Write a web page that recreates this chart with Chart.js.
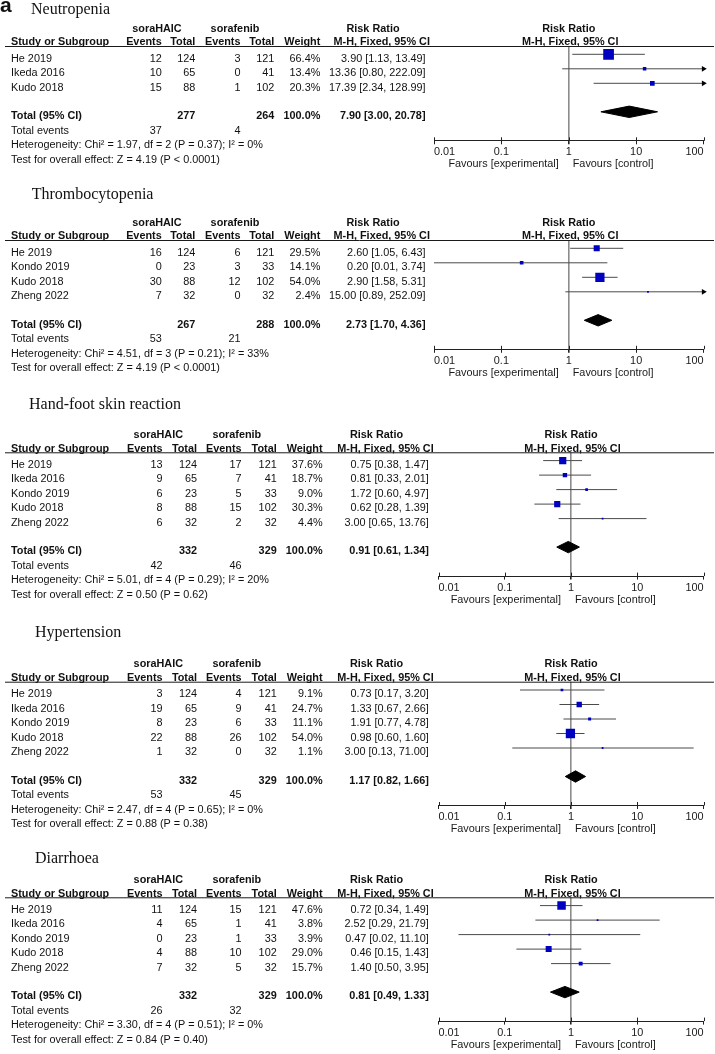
<!DOCTYPE html>
<html><head><meta charset="utf-8">
<script src="https://cdn.jsdelivr.net/npm/chart.js@4.4.1/dist/chart.umd.min.js"></script>
<style>
html,body{margin:0;padding:0;background:#fff;}
body{width:715px;height:1054px;position:relative;overflow:hidden;}
.panel{position:absolute;left:0;width:715px;}
</style></head><body>
<script>
// ---------------- DATA ----------------
const outcomeTitles = ["Neutropenia","Thrombocytopenia","Hand-foot skin reaction","Hypertension","Diarrhoea"];
const groupLabels = ["soraHAIC","sorafenib"];
const axisTicks = [0.01,0.1,1,10,100];
const favourLabels = ["Favours [experimental]","Favours [control]"];

// Neutropenia
const neutStudies = ["He 2019","Ikeda 2016","Kudo 2018"];
const neutExpEvents = [12,10,15];
const neutExpTotal = [124,65,88];
const neutCtlEvents = [3,0,1];
const neutCtlTotal = [121,41,102];
const neutWeight = [66.4,13.4,20.3];
const neutRR = [3.90,13.36,17.39];
const neutLow = [1.13,0.80,2.34];
const neutHigh = [13.49,222.09,128.99];
const neutPooled = [7.90,3.00,20.78];
const neutTotals = [37,277,4,264];
const neutStats = ["Heterogeneity: Chi\u00b2 = 1.97, df = 2 (P = 0.37); I\u00b2 = 0%","Test for overall effect: Z = 4.19 (P < 0.0001)"];

// Thrombocytopenia
const thrStudies = ["He 2019","Kondo 2019","Kudo 2018","Zheng 2022"];
const thrExpEvents = [16,0,30,7];
const thrExpTotal = [124,23,88,32];
const thrCtlEvents = [6,3,12,0];
const thrCtlTotal = [121,33,102,32];
const thrWeight = [29.5,14.1,54.0,2.4];
const thrRR = [2.60,0.20,2.90,15.00];
const thrLow = [1.05,0.01,1.58,0.89];
const thrHigh = [6.43,3.74,5.31,252.09];
const thrPooled = [2.73,1.70,4.36];
const thrTotals = [53,267,21,288];
const thrStats = ["Heterogeneity: Chi\u00b2 = 4.51, df = 3 (P = 0.21); I\u00b2 = 33%","Test for overall effect: Z = 4.19 (P < 0.0001)"];

// Hand-foot skin reaction
const hfsStudies = ["He 2019","Ikeda 2016","Kondo 2019","Kudo 2018","Zheng 2022"];
const hfsExpEvents = [13,9,6,8,6];
const hfsExpTotal = [124,65,23,88,32];
const hfsCtlEvents = [17,7,5,15,2];
const hfsCtlTotal = [121,41,33,102,32];
const hfsWeight = [37.6,18.7,9.0,30.3,4.4];
const hfsRR = [0.75,0.81,1.72,0.62,3.00];
const hfsLow = [0.38,0.33,0.60,0.28,0.65];
const hfsHigh = [1.47,2.01,4.97,1.39,13.76];
const hfsPooled = [0.91,0.61,1.34];
const hfsTotals = [42,332,46,329];
const hfsStats = ["Heterogeneity: Chi\u00b2 = 5.01, df = 4 (P = 0.29); I\u00b2 = 20%","Test for overall effect: Z = 0.50 (P = 0.62)"];

// Hypertension
const hypStudies = ["He 2019","Ikeda 2016","Kondo 2019","Kudo 2018","Zheng 2022"];
const hypExpEvents = [3,19,8,22,1];
const hypExpTotal = [124,65,23,88,32];
const hypCtlEvents = [4,9,6,26,0];
const hypCtlTotal = [121,41,33,102,32];
const hypWeight = [9.1,24.7,11.1,54.0,1.1];
const hypRR = [0.73,1.33,1.91,0.98,3.00];
const hypLow = [0.17,0.67,0.77,0.60,0.13];
const hypHigh = [3.20,2.66,4.78,1.60,71.00];
const hypPooled = [1.17,0.82,1.66];
const hypTotals = [53,332,45,329];
const hypStats = ["Heterogeneity: Chi\u00b2 = 2.47, df = 4 (P = 0.65); I\u00b2 = 0%","Test for overall effect: Z = 0.88 (P = 0.38)"];

// Diarrhoea
const diaStudies = ["He 2019","Ikeda 2016","Kondo 2019","Kudo 2018","Zheng 2022"];
const diaExpEvents = [11,4,0,4,7];
const diaExpTotal = [124,65,23,88,32];
const diaCtlEvents = [15,1,1,10,5];
const diaCtlTotal = [121,41,33,102,32];
const diaWeight = [47.6,3.8,3.9,29.0,15.7];
const diaRR = [0.72,2.52,0.47,0.46,1.40];
const diaLow = [0.34,0.29,0.02,0.15,0.50];
const diaHigh = [1.49,21.79,11.10,1.43,3.95];
const diaPooled = [0.81,0.49,1.33];
const diaTotals = [26,332,32,329];
const diaStats = ["Heterogeneity: Chi\u00b2 = 3.30, df = 4 (P = 0.51); I\u00b2 = 0%","Test for overall effect: Z = 0.84 (P = 0.40)"];

// ---------------- ASSEMBLY ----------------
function outcome(title, st, ee, et, ce, ct, w, rr, lo, hi, pooled, totals, stats){
  return {title, studies:st, expEv:ee, expTot:et, ctlEv:ce, ctlTot:ct, weight:w, rr, lo, hi, pooled, totals, stats};
}
const outcomes = [
  outcome(outcomeTitles[0], neutStudies, neutExpEvents, neutExpTotal, neutCtlEvents, neutCtlTotal, neutWeight, neutRR, neutLow, neutHigh, neutPooled, neutTotals, neutStats),
  outcome(outcomeTitles[1], thrStudies, thrExpEvents, thrExpTotal, thrCtlEvents, thrCtlTotal, thrWeight, thrRR, thrLow, thrHigh, thrPooled, thrTotals, thrStats),
  outcome(outcomeTitles[2], hfsStudies, hfsExpEvents, hfsExpTotal, hfsCtlEvents, hfsCtlTotal, hfsWeight, hfsRR, hfsLow, hfsHigh, hfsPooled, hfsTotals, hfsStats),
  outcome(outcomeTitles[3], hypStudies, hypExpEvents, hypExpTotal, hypCtlEvents, hypCtlTotal, hypWeight, hypRR, hypLow, hypHigh, hypPooled, hypTotals, hypStats),
  outcome(outcomeTitles[4], diaStudies, diaExpEvents, diaExpTotal, diaCtlEvents, diaCtlTotal, diaWeight, diaRR, diaLow, diaHigh, diaPooled, diaTotals, diaStats),
];

// ---------------- LAYOUT / STYLE ----------------
const colsA = {name:11, expEv:161.7, expTot:195.3, ctlEv:240.5, ctlTot:274.3, weight:320.3, rr:425.5, g1:157, g2:235, rrHead:373, mhHead:381.7, plotL:434, plotR:703.5};
const colsB = {name:11, expEv:162.6, expTot:197, ctlEv:241.6, ctlTot:276.7, weight:322.6, rr:428.8, g1:158.3, g2:236.8, rrHead:376.5, mhHead:385.5, plotL:438.5, plotR:703.5};
const panelLayout = [
  {top:0,   height:180, rule:46,    titleBase:13.6,  titleX:31,   cols:colsA},
  {top:180, height:210, rule:240,   titleBase:198.8, titleX:31.7, cols:colsA},
  {top:390, height:218, rule:452.3, titleBase:409,   titleX:29,   cols:colsB},
  {top:608, height:234, rule:681.7, titleBase:636.7, titleX:35,   cols:colsB},
  {top:842, height:212, rule:897.3, titleBase:863,   titleX:35,   cols:colsB},
];
const ROW0 = 8.3, ROWH = 14.5, TOTGAP = 28.5, AXGAP = 29, AXIS_H = 30, DIAMOND_H = 5.7;
const SANS = "'Liberation Sans', Arial, Helvetica, sans-serif";
const SERIF = "'Liberation Serif', 'Times New Roman', serif";
const FS = 10.85;
const BLUE = '#0000c0';
Chart.defaults.font.family = SANS;

function rowOff(i){ return ROW0 + ROWH*i; }
const f2 = v => v.toFixed(2);
const ciText = (r,l,h) => `${f2(r)} [${f2(l)}, ${f2(h)}]`;

function makeTablePlugin(o, lay, idx){
  return {
    id: 'forestTable' + idx,
    afterDraw(chart){
      const ctx = chart.ctx, ys = chart.scales.y, xs = chart.scales.x, c = lay.cols;
      const n = o.studies.length;
      const L = chart.chartArea.top;
      const axisY = chart.chartArea.bottom;
      const totOff = rowOff(n-1) + TOTGAP;
      const base = off => ys.getPixelForValue(off) + 7.3;
      const txt = (s, x, y, align, bold) => {
        ctx.font = (bold ? 'bold ' : '') + FS + 'px ' + SANS;
        ctx.textAlign = align; ctx.textBaseline = 'alphabetic';
        ctx.fillText(s, x, y);
      };
      ctx.save();
      ctx.fillStyle = '#111';
      // title
      ctx.font = '16px ' + SERIF; ctx.textAlign = 'left'; ctx.textBaseline = 'alphabetic';
      ctx.fillText(o.title, lay.titleX, lay.titleBase - lay.top);
      if (idx === 0) { ctx.font = 'bold 21px ' + SANS; ctx.fillText('a', 0, 12); }
      // header rule
      ctx.strokeStyle = '#1a1a1a'; ctx.lineWidth = 1;
      ctx.beginPath(); ctx.moveTo(5, L + 0.5); ctx.lineTo(714, L + 0.5); ctx.stroke();
      // headers
      const h1 = L - 14.5, h2 = L - 0.8;
      const x1 = xs.getPixelForValue(1);
      txt(groupLabels[0], c.g1, h1, 'center', true);
      txt(groupLabels[1], c.g2, h1, 'center', true);
      txt('Risk Ratio', c.rrHead, h1, 'center', true);
      txt('Risk Ratio', x1, h1, 'center', true);
      txt('Study or Subgroup', c.name, h2, 'left', true);
      txt('Events', c.expEv, h2, 'right', true);
      txt('Total', c.expTot, h2, 'right', true);
      txt('Events', c.ctlEv, h2, 'right', true);
      txt('Total', c.ctlTot, h2, 'right', true);
      txt('Weight', c.weight, h2, 'right', true);
      txt('M-H, Fixed, 95% CI', c.mhHead, h2, 'center', true);
      txt('M-H, Fixed, 95% CI', x1 + 1.5, h2, 'center', true);
      // study rows
      for (let i = 0; i < n; i++) {
        const y = base(rowOff(i));
        txt(o.studies[i], c.name, y, 'left');
        txt(String(o.expEv[i]), c.expEv, y, 'right');
        txt(String(o.expTot[i]), c.expTot, y, 'right');
        txt(String(o.ctlEv[i]), c.ctlEv, y, 'right');
        txt(String(o.ctlTot[i]), c.ctlTot, y, 'right');
        txt(o.weight[i].toFixed(1) + '%', c.weight, y, 'right');
        txt(ciText(o.rr[i], o.lo[i], o.hi[i]), c.rr, y, 'right');
      }
      // total row
      let y = base(totOff);
      txt('Total (95% CI)', c.name, y, 'left', true);
      txt(String(o.totals[1]), c.expTot, y, 'right', true);
      txt(String(o.totals[3]), c.ctlTot, y, 'right', true);
      txt('100.0%', c.weight, y, 'right', true);
      txt(ciText(o.pooled[0], o.pooled[1], o.pooled[2]), c.rr, y, 'right', true);
      y = base(totOff + ROWH);
      txt('Total events', c.name, y, 'left');
      txt(String(o.totals[0]), c.expEv, y, 'right');
      txt(String(o.totals[2]), c.ctlEv, y, 'right');
      txt(o.stats[0], c.name, base(totOff + 2*ROWH), 'left');
      txt(o.stats[1], c.name, base(totOff + 3*ROWH), 'left');
      // upper halves of tick marks
      ctx.strokeStyle = '#222'; ctx.lineWidth = 1;
      xs.ticks.forEach(t => {
        const px = Math.round(xs.getPixelForValue(t.value)) + 0.5;
        ctx.beginPath(); ctx.moveTo(px, axisY - 3.5); ctx.lineTo(px, axisY); ctx.stroke();
      });
      // favours labels
      ctx.font = FS + 'px ' + SANS; ctx.textBaseline = 'middle'; ctx.fillStyle = '#1a1a1a';
      ctx.textAlign = 'right'; ctx.fillText(favourLabels[0], x1 - 10, axisY + 23.5);
      ctx.textAlign = 'left'; ctx.fillText(favourLabels[1], x1 + 4, axisY + 23.5);
      ctx.restore();
    }
  };
}

outcomes.forEach((o, idx) => {
  const lay = panelLayout[idx], c = lay.cols;
  const n = o.studies.length;
  const totOff = rowOff(n-1) + TOTGAP;
  const axisOff = totOff + AXGAP;
  const L = lay.rule - lay.top;
  const padBottom = lay.height - L - axisOff - AXIS_H;

  const div = document.createElement('div');
  div.className = 'panel';
  div.style.top = lay.top + 'px';
  div.style.height = lay.height + 'px';
  const cv = document.createElement('canvas');
  cv.width = 715; cv.height = lay.height;
  cv.style.width = '715px'; cv.style.height = lay.height + 'px';
  div.appendChild(cv);
  document.body.appendChild(div);

  const xMin = axisTicks[0], xMax = axisTicks[axisTicks.length - 1];
  const datasets = [];
  datasets.push({
    label: 'studies',
    data: o.rr.map((v, i) => ({x: v, y: rowOff(i)})),
    pointStyle: 'rect',
    pointRadius: o.weight.map(w => Math.max(1.8, 0.567 * Math.pow(w, 0.7)) / Math.SQRT2),
    backgroundColor: BLUE, borderColor: BLUE, borderWidth: 0, order: 0
  });
  datasets.push({
    label: 'pooled',
    data: [
      {x: o.pooled[1], y: totOff}, {x: o.pooled[0], y: totOff - DIAMOND_H},
      {x: o.pooled[2], y: totOff}, {x: o.pooled[0], y: totOff + DIAMOND_H},
      {x: o.pooled[1], y: totOff}
    ],
    showLine: true, fill: 'shape', backgroundColor: '#000', borderColor: '#000',
    borderWidth: 1, pointRadius: 0, order: 1
  });
  o.rr.forEach((v, i) => {
    datasets.push({
      label: 'ci' + i,
      data: [{x: o.lo[i], y: rowOff(i)}, {x: o.hi[i], y: rowOff(i)}],
      showLine: true, borderColor: '#4a4a4a', borderWidth: 1, pointRadius: 0, clip: 0, order: 2
    });
    if (o.hi[i] > xMax) datasets.push({
      label: 'arrowR' + i, data: [{x: xMax, y: rowOff(i)}],
      pointStyle: 'triangle', rotation: 90, pointRadius: 3.3,
      backgroundColor: '#000', borderColor: '#000', borderWidth: 0, clip: false, order: 1
    });
    if (o.lo[i] < xMin) datasets.push({
      label: 'arrowL' + i, data: [{x: xMin, y: rowOff(i)}],
      pointStyle: 'triangle', rotation: 270, pointRadius: 3.3,
      backgroundColor: '#000', borderColor: '#000', borderWidth: 0, clip: false, order: 1
    });
  });

  new Chart(cv, {
    type: 'scatter',
    data: {datasets},
    options: {
      responsive: false, animation: false, events: [],
      layout: {padding: {left: c.plotL, right: 715 - c.plotR, top: L, bottom: padBottom}},
      plugins: {legend: {display: false}, tooltip: {enabled: false}},
      scales: {
        x: {
          type: 'logarithmic', min: xMin, max: xMax,
          afterBuildTicks: s => { s.ticks = axisTicks.map(v => ({value: v})); },
          afterFit: s => { s.height = AXIS_H; },
          ticks: {callback: v => String(v), align: 'inner', autoSkip: false, maxRotation: 0,
                  font: {size: FS, family: SANS}, color: '#1a1a1a', padding: 1.5},
          grid: {
            color: cx => (cx.tick && cx.tick.value === 1) ? '#8c8c8c' : 'rgba(0,0,0,0)',
            lineWidth: cx => (cx.tick && cx.tick.value === 1) ? 1.6 : 1,
            tickColor: '#222', tickLength: 3.5, drawTicks: true, drawOnChartArea: true
          },
          border: {display: true, color: '#222', width: 1}
        },
        y: {type: 'linear', display: false, min: 0, max: axisOff, reverse: true}
      }
    },
    plugins: [makeTablePlugin(o, lay, idx)]
  });
});
</script>
</body></html>
